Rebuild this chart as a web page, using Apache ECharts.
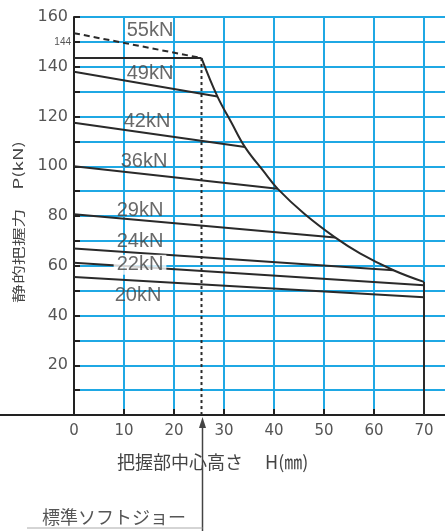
<!DOCTYPE html>
<html><head><meta charset="utf-8">
<script src="https://cdn.jsdelivr.net/npm/echarts@6/dist/echarts.min.js"></script>
<style>html,body{margin:0;padding:0;background:#fff}#c{width:445px;height:531px}</style>
</head><body><div id="c"></div>
<script>
// ---- data ----
const xTickValues = [0,10,20,30,40,50,60,70];
const yTickLabels = {20:'20',40:'40',60:'60',80:'80',100:'100',120:'120',140:'140',150:'144',160:'160'};
const forceNames = ['55kN','49kN','42kN','36kN','29kN','24kN','22kN','20kN'];
const line55 = [[0,143.5],[25.5,143.5]];
const line55Dashed = [[0,153.5],[25.5,143.5]];
const line49 = [[0,138],[28.7,128]];
const line42 = [[0,117.5],[34.2,107.7]];
const line36 = [[0,100],[40.7,91]];
const line29 = [[0,80.7],[52.2,71.4]];
const line24 = [[0,66.9],[63.9,58.2]];
const line22 = [[0,61.2],[70,52.2]];
const line20 = [[0,55.5],[70,47.3]];
const envelope = [[25.5,143.5],[28.7,128],[31.5,117.5],[34.2,107.7],[37.9,98],[40.7,91],[46,81],[52.2,71.4],[57.2,65],[63.9,58.2],[70,53.5]];
const limit70 = [[70,53.5],[70,0]];
const standardJaw = [[25.5,143.5],[25.5,0]];
const xName = '把握部中心高さ　 H(㎜)';
const yName = '静的把握力　P(kN)';
const noteText = '標準ソフトジョー';

// ---- styles ----
const BLUE = '#1fa8e4', INK = '#2a2a2a', TXT = '#555';
const labelOffsets = [[76,-28],[76,2],[73,-1],[70,-5],[66,-4],[66,-7],[66,2],[64,19]];
const lines = [line55,line49,line42,line36,line29,line24,line22,line20];

const chart = echarts.init(document.getElementById('c'), null, {renderer:'canvas'});
function lineSeries(data, extra) {
  return Object.assign({type:'line', data, showSymbol:false, symbol:'none', silent:true,
    lineStyle:{color:INK, width:2}, z:3}, extra||{});
}
const option = {
  animation:false,
  grid:{left:74, top:17, width:400, height:398, outerBoundsMode:'none', containLabel:false},
  xAxis:{type:'value', min:0, max:80, interval:10,
    axisLine:{lineStyle:{color:'#222', width:2}},
    axisTick:{inside:true, length:6, lineStyle:{color:'#222', width:2}},
    axisLabel:{margin:9, color:TXT, fontFamily:'DejaVu Sans', fontSize:15,
      formatter:v=>xTickValues.includes(v)?String(v):''},
    splitLine:{show:true, lineStyle:{color:BLUE, width:2}}},
  yAxis:{type:'value', min:0, max:160, interval:10,
    axisLine:{show:true, lineStyle:{color:'#222', width:2}},
    axisTick:{show:true, inside:true, length:6, lineStyle:{color:'#222', width:2}},
    axisLabel:{margin:6, color:TXT, fontFamily:'DejaVu Sans', fontSize:16,
      formatter:v=>{const t=yTickLabels[v]; if(!t) return ''; return v===150?'{s|'+t+'}':t;},
      rich:{s:{fontSize:10, fontFamily:'Liberation Sans', color:TXT, padding:[0,-3,0,0]}}},
    splitLine:{show:true, lineStyle:{color:BLUE, width:2}}},
  series:[
    lineSeries(line55),
    lineSeries(line55Dashed,{lineStyle:{color:INK,width:2,type:[6,4]}}),
    lineSeries(line49), lineSeries(line42), lineSeries(line36), lineSeries(line29),
    lineSeries(line24), lineSeries(line22), lineSeries(line20),
    lineSeries(envelope,{smooth:0.4}),
    lineSeries(limit70),
    lineSeries(standardJaw,{lineStyle:{color:INK,width:2,type:[3,3]}}),
    {type:'scatter', symbolSize:1, itemStyle:{color:'rgba(0,0,0,0)'}, z:5, silent:true,
     data: forceNames.map((n,i)=>({name:n, value:lines[i][0],
       label:{offset:labelOffsets[i], backgroundColor: n==='22kN'?'#fff':'transparent', padding:n==='22kN'?[0,3]:0}})),
     label:{show:true, position:'inside', formatter:'{b}', color:'#444',
       fontFamily:'Liberation Sans', fontSize:20}}
  ]
};
chart.setOption(option);
const p0 = chart.convertToPixel({gridIndex:0},[0,0]);
const ax = chart.convertToPixel({gridIndex:0},[standardJaw[1][0],0])[0];
chart.setOption({graphic:[
  {type:'line', shape:{x1:0,y1:p0[1],x2:p0[0],y2:p0[1]}, style:{stroke:'#222', lineWidth:2}, z:10},
  {type:'text', x:117, y:462, style:{text:xName, font:'18px "Noto Sans CJK JP"', fill:'#444', verticalAlign:'middle', align:'left'}},
  {type:'text', x:18, y:222, rotation:Math.PI/2, scaleX:1.45,
   style:{text:yName, font:'13px "Noto Sans CJK JP"', fill:'#444', align:'center', verticalAlign:'middle'}},
  {type:'line', shape:{x1:ax+1,y1:426,x2:ax+1,y2:531}, style:{stroke:'#444', lineWidth:1.5}},
  {type:'polygon', shape:{points:[[ax+1,417],[ax-2.5,428],[ax+4.5,428]]}, style:{fill:'#444'}},
  {type:'line', shape:{x1:27,y1:528,x2:ax+1,y2:528}, style:{stroke:'#aaa', lineWidth:1}},
  {type:'text', x:114, y:517, style:{text:noteText, font:'18px "Noto Sans CJK JP"', fill:'#555', align:'center', verticalAlign:'middle'}}
]});
</script></body></html>
